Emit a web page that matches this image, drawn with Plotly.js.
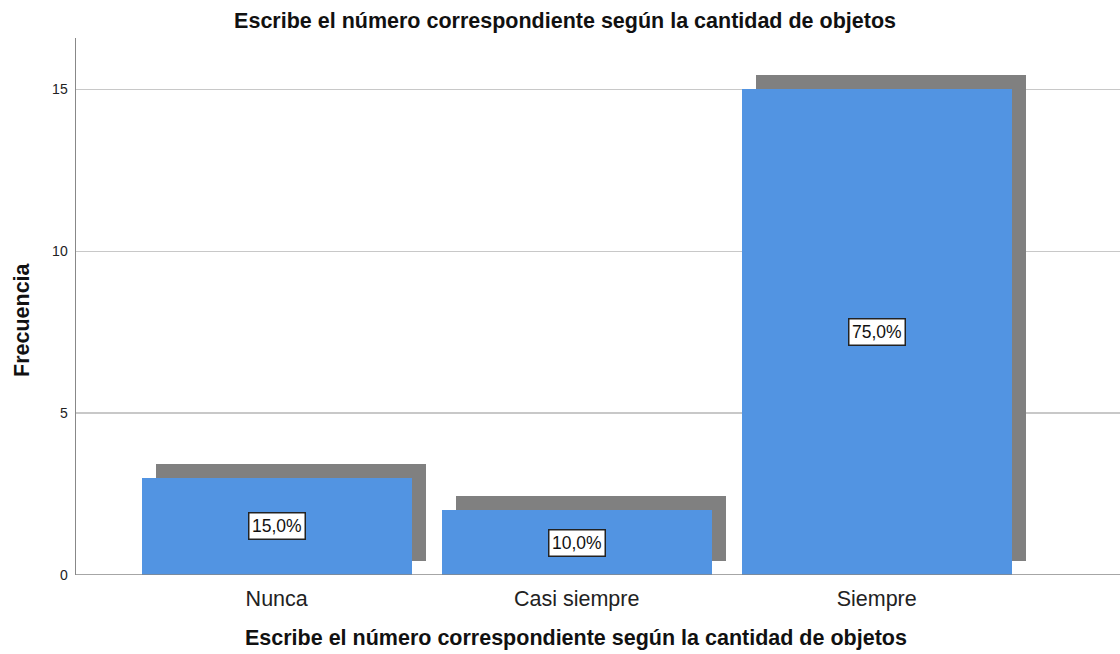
<!DOCTYPE html>
<html>
<head>
<meta charset="utf-8">
<script src="https://cdn.plot.ly/plotly-3.0.1.min.js"></script>
<style>html,body{margin:0;padding:0;background:#fff;}#chart{width:1120px;height:654px;}</style>
</head>
<body>
<div id="chart"></div>
<script>
const categories = ["Nunca", "Casi siempre", "Siempre"];
const frequencies = [3, 2, 15];
const percentLabels = ["15,0%", "10,0%", "75,0%"];
const yTicks = [0, 5, 10, 15];
const titleText = "Escribe el número correspondiente según la cantidad de objetos";
const yTitle = "Frecuencia";

const FONT = "Liberation Sans, Arial, sans-serif";
const xs = categories.map((c, i) => i);

// shadow offsets (style): 14px right, 14px up
const pxPerCat = 300, pxPerUnit = 32.38;
const dx = 14 / pxPerCat, dy = 14 / pxPerUnit;

const shadow = {
  type: "bar", x: xs, y: frequencies, base: frequencies.map(() => dy),
  width: 0.9, offset: -0.45 + dx,
  marker: {color: "#808080", line: {width: 0}},
  hoverinfo: "skip", showlegend: false
};
const bars = {
  type: "bar", x: xs, y: frequencies,
  width: 0.9, offset: -0.45,
  marker: {color: "#5294e2", line: {width: 0}},
  showlegend: false
};

const annotations = xs.map((x, i) => ({
  x: x, y: frequencies[i] / 2, xref: "x", yref: "y",
  text: percentLabels[i], showarrow: false,
  font: {family: FONT, size: 17.5, color: "#111"},
  bgcolor: "#ffffff", bordercolor: "#222", borderwidth: 1.5, borderpad: 2.5
}));
// axis titles as annotations (positioned like the reference)
annotations.push({
  xref: "paper", yref: "paper", x: (576 - 76) / 1044, y: -(638 - 575) / 537,
  xanchor: "center", yanchor: "middle", showarrow: false, text: titleText,
  font: {family: FONT, size: 21.5, color: "#111", weight: "bold"}
});
annotations.push({
  xref: "paper", yref: "paper", x: (22 - 76) / 1044, y: (575 - 320) / 537,
  xanchor: "center", yanchor: "middle", showarrow: false, text: yTitle, textangle: -90,
  font: {family: FONT, size: 21.5, color: "#111", weight: "bold"}
});

const layout = {
  width: 1120, height: 654,
  margin: {l: 76, r: 0, t: 38, b: 79},
  paper_bgcolor: "#fff", plot_bgcolor: "#fff",
  barmode: "overlay", bargap: 0,
  title: {text: titleText, x: 0.5045, xanchor: "center", y: 0.969, yanchor: "middle",
          font: {family: FONT, size: 21.5, color: "#111", weight: "bold"}},
  xaxis: {
    range: [-0.669, 2.811], tickmode: "array", tickvals: xs, ticktext: categories,
    showgrid: false, zeroline: false, showline: false,
    ticks: "outside", ticklen: 4, tickcolor: "rgba(0,0,0,0)",
    tickfont: {family: FONT, size: 21.5, color: "#222"}
  },
  yaxis: {
    range: [0, 16.58], tickmode: "array", tickvals: yTicks, ticktext: yTicks.map(String),
    showgrid: true, gridcolor: "#c8c8c8", gridwidth: 1.2,
    zeroline: false, showline: true, linecolor: "#888", linewidth: 1.5,
    ticks: "outside", ticklen: 4, tickcolor: "rgba(0,0,0,0)",
    tickfont: {family: FONT, size: 14, color: "#222"}
  },
  shapes: [{type: "line", xref: "paper", yref: "y", x0: 0, x1: 1, y0: 0, y1: 0,
            line: {color: "#888", width: 1.5}}],
  annotations: annotations
};

Plotly.newPlot("chart", [shadow, bars], layout, {displayModeBar: false, staticPlot: true});
</script>
</body>
</html>
